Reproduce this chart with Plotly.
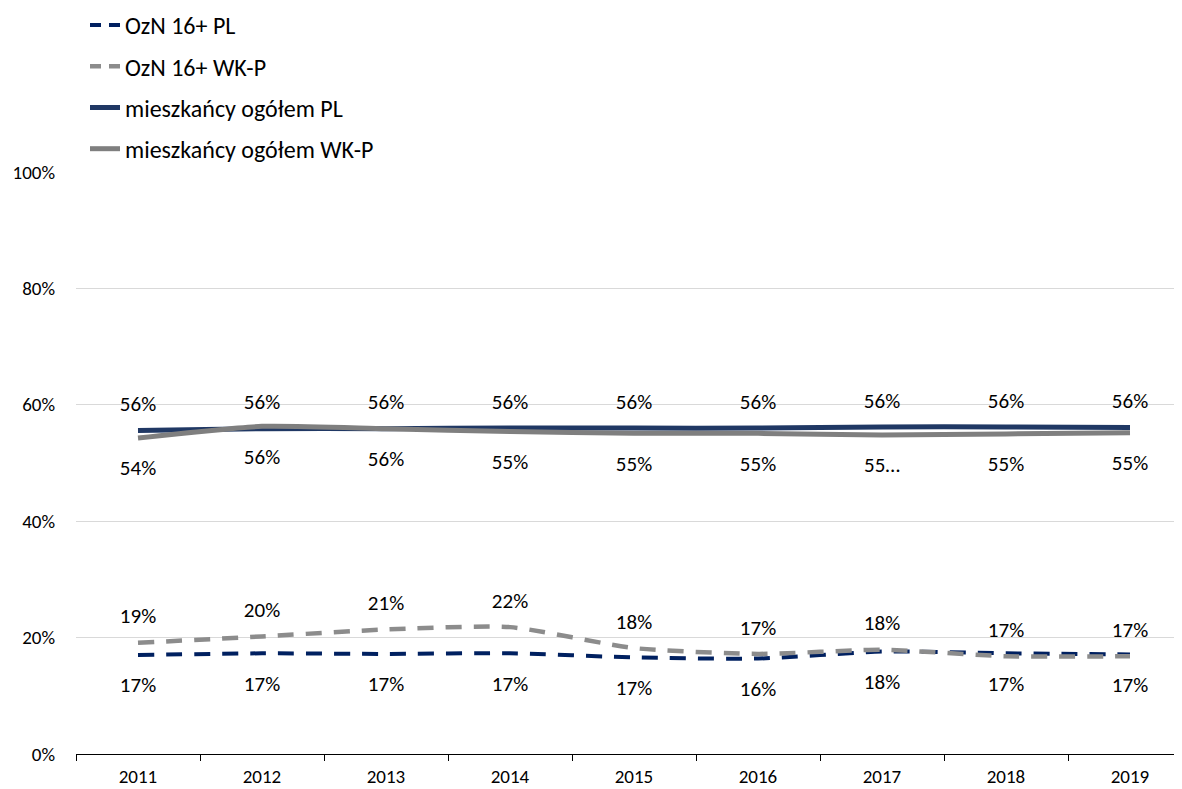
import plotly.graph_objects as go

years = ["2011", "2012", "2013", "2014", "2015", "2016", "2017", "2018", "2019"]

ozn_pl = [17.0, 17.3, 17.2, 17.3, 16.6, 16.4, 17.6, 17.3, 17.1]
ozn_wkp = [19.1, 20.2, 21.4, 21.8, 18.2, 17.2, 17.9, 16.8, 16.8]
ogol_pl = [55.6, 55.9, 55.9, 56.0, 56.0, 56.0, 56.2, 56.2, 56.1]
ogol_wkp = [54.3, 56.3, 55.9, 55.4, 55.1, 55.1, 54.8, 55.0, 55.2]

labels_ozn_pl = ["17%", "17%", "17%", "17%", "17%", "16%", "18%", "17%", "17%"]
labels_ozn_wkp = ["19%", "20%", "21%", "22%", "18%", "17%", "18%", "17%", "17%"]
labels_ogol_pl = ["56%", "56%", "56%", "56%", "56%", "56%", "56%", "56%", "56%"]
labels_ogol_wkp = ["54%", "56%", "56%", "55%", "55%", "55%", "55…", "55%", "55%"]

FONT = "Carlito, Calibri, Lato, sans-serif"
NAVY_D = "#002060"
NAVY = "#203864"
GRAY_D = "#8C8C8C"
GRAY = "#7F7F7F"

# the page body adds an 8px offset, so the figure is laid out 8px smaller
OFF = 8
W, H = 1182 - OFF, 789 - OFF
PLOT_L, PLOT_T, PLOT_B = 76 - OFF, 172 - OFF, 754 - OFF
CAT_W = 124

fig = go.Figure()
series = [
    ("OzN 16+ PL", ozn_pl, NAVY_D, "16px,12px", "11px,8px", 4),
    ("OzN 16+ WK-P", ozn_wkp, GRAY_D, "16px,12px", "11px,8px", 4.5),
    ("mieszkańcy ogółem PL", ogol_pl, NAVY, "solid", "solid", 5),
    ("mieszkańcy ogółem WK-P", ogol_wkp, GRAY, "solid", "solid", 5),
]
for name, vals, col, dash, ldash, w in series:
    fig.add_trace(go.Scatter(
        x=years, y=vals, name=name, mode="lines", showlegend=False,
        line=dict(color=col, width=w, dash=dash, shape="spline", smoothing=0.6),
    ))
# legend entries (shorter dash pattern so the legend sample shows two dashes)
for name, vals, col, dash, ldash, w in series:
    fig.add_trace(go.Scatter(
        x=[None], y=[None], name=name, mode="lines", legendgroup=name,
        line=dict(color=col, width=w, dash=ldash),
    ))

LABEL_SIZE = 21
def add_labels(vals, texts, where, pad):
    fig.add_trace(go.Scatter(
        x=years, y=vals, mode="markers+text", text=texts,
        textposition=where, showlegend=False, hoverinfo="skip",
        marker=dict(size=pad, opacity=0, color="white"),
        textfont=dict(family=FONT, size=LABEL_SIZE, color="#000000"),
        cliponaxis=False,
    ))

add_labels(ogol_pl, labels_ogol_pl, "top center", 21)
add_labels(ogol_wkp, labels_ogol_wkp, "bottom center", 33)
add_labels(ozn_wkp, labels_ozn_wkp, "top center", 21)
add_labels(ozn_pl, labels_ozn_pl, "bottom center", 33)

paper_h = PLOT_B
fig.update_layout(
    width=W, height=H,
    margin=dict(l=0, r=0, t=0, b=H - PLOT_B, autoexpand=False),
    paper_bgcolor="white", plot_bgcolor="white",
    font=dict(family=FONT, size=19, color="#000000"),
    showlegend=True,
    legend=dict(
        x=(85 - OFF) / W, y=1 + 5 / paper_h, xanchor="left", yanchor="top",
        font=dict(family=FONT, size=24, color="#000000"),
        bgcolor="rgba(0,0,0,0)", tracegroupgap=7,
    ),
    xaxis=dict(
        type="category", range=[-0.5, -0.5 + (W - PLOT_L) / CAT_W],
        domain=[PLOT_L / W, 1],
        showgrid=False, showline=True, linecolor="#000000", linewidth=1,
        ticks="outside", tickson="boundaries", ticklen=6, tickcolor="#000000",
        tickfont=dict(family=FONT, size=19, color="#000000"),
        ticklabelstandoff=5, automargin=False,
        fixedrange=True,
    ),
    yaxis=dict(
        range=[0, 100], dtick=20, ticksuffix="%",
        domain=[0, (paper_h - PLOT_T) / paper_h],
        showgrid=True, gridcolor="#D9D9D9", gridwidth=1,
        zeroline=False, showline=False,
        tickfont=dict(family=FONT, size=19, color="#000000"),
        ticklabelstandoff=20, automargin=False,
        fixedrange=True,
    ),
)

fig.write_html("out.html")
